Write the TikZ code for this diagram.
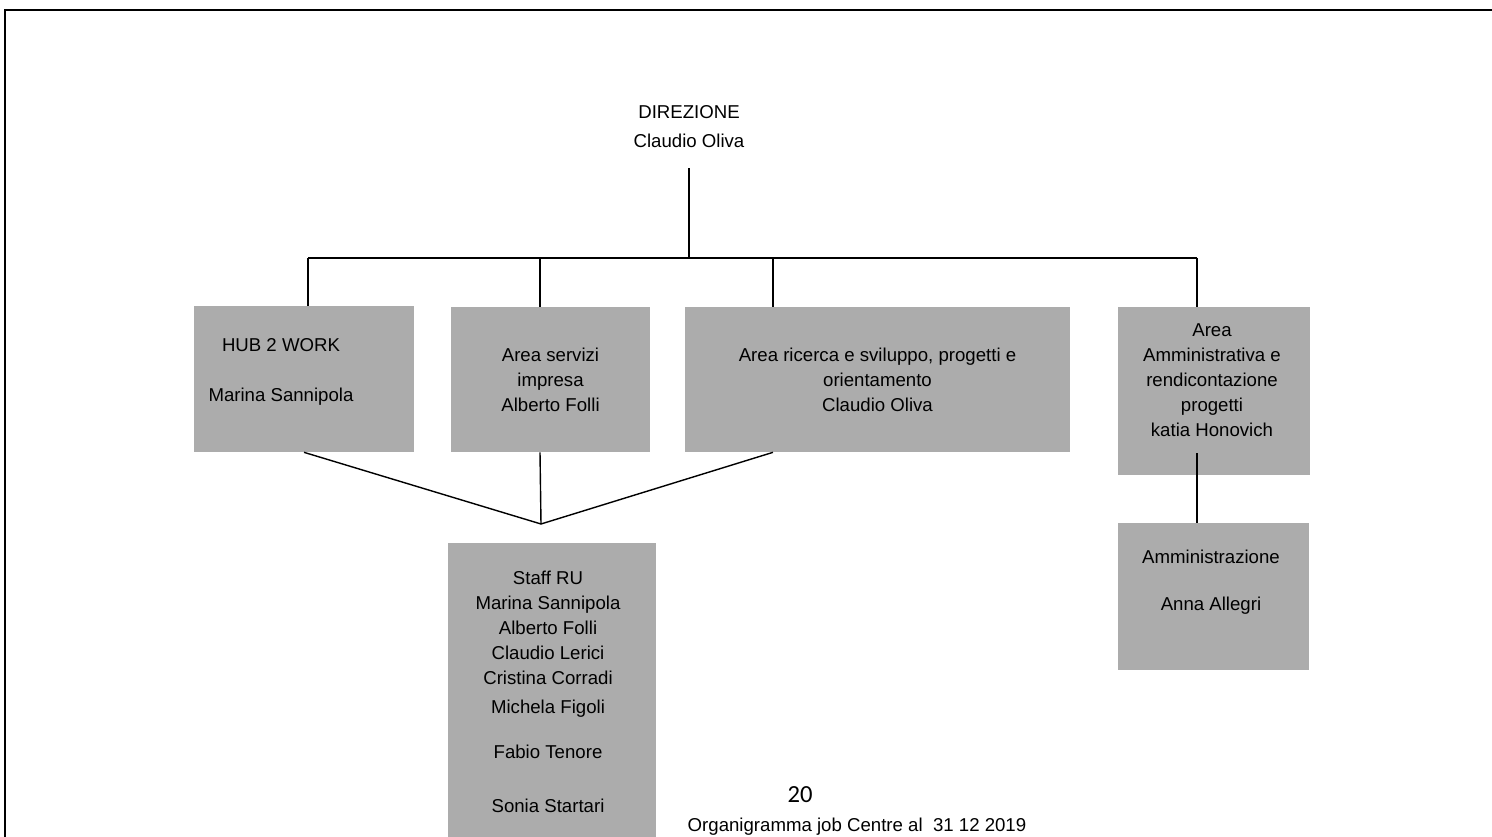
\documentclass[tikz,border=0pt]{standalone}
\usepackage{fontspec}
\setmainfont{Liberation Sans}
\newfontfamily\pagefont{Carlito}
\definecolor{boxGray}{RGB}{172,172,172}

\begin{document}
\begin{tikzpicture}[
        x=0.02cm, y=-0.02cm,
        area/.style={
            rectangle,
            fill=boxGray,
            inner sep=0pt,
            align=center,
            font=\fontsize{10.6}{14.2}\selectfont
        },
        testo/.style={
            align=center,
            inner sep=0pt,
            font=\fontsize{10.6}{14.2}\selectfont
        },
        linea/.style={
            line width=0.8pt
        },
        barra/.style={
            line width=1.4pt
        }
    ]

    \useasboundingbox (0,0) rectangle (1492,837);
    \clip (0,0) rectangle (1492,837);
    \fill[white] (0,0) rectangle (1492,837);

    % page frame
    \draw[line width=0.9pt] (1492,10) -- (5,10) -- (5,837);

    \node[testo, font=\fontsize{10.6}{16.5}\selectfont, inner ysep=0.4cm] (dir) at (689,127) {DIREZIONE\\Claudio Oliva};

    \node[area, minimum width=4.4cm, minimum height=2.92cm] (hub) at (304,379) {};
    \node[testo] (hubtxt) at (281,372) {HUB 2 WORK\\[0.5cm]Marina Sannipola};
    \node[area, minimum width=3.98cm, minimum height=2.9cm] (servizi) at (550.5,379.5) {Area servizi\\impresa\\Alberto Folli};
    \node[area, minimum width=7.7cm, minimum height=2.9cm] (ricerca) at (877.5,379.5) {Area ricerca e sviluppo, progetti e\\orientamento\\Claudio Oliva};
    \node[area, minimum width=3.84cm, minimum height=3.36cm] (amm) at (1214,391) {};
    \node[testo] (ammtxt) at (1212,380) {Area\\Amministrativa e\\rendicontazione\\progetti\\katia Honovich};
    \node[area, minimum width=3.82cm, minimum height=2.94cm] (ammin) at (1213.5,596.5) {};
    \node[testo] (ammintxt) at (1211,582) {Amministrazione\\[0.44cm]Anna Allegri};
    \node[area, minimum width=4.16cm, minimum height=7.2cm, anchor=north] (staff) at (552,543) {};
    \node[testo] (stafftxt) at (548,692) {Staff RU\\Marina Sannipola\\Alberto Folli\\Claudio Lerici\\Cristina Corradi\\[0.08cm]Michela Figoli\\[0.4cm]Fabio Tenore\\[0.58cm]Sonia Startari};

    \coordinate (d1) at (308,258);
    \coordinate (d2) at (540,258);
    \coordinate (d3) at (773,258);
    \coordinate (d4) at (1197,258);
    \coordinate (join) at (541,524);

    \draw[barra] (d1) -- (d4);
    \draw[linea] (dir.south) -- (dir.south |- d1);
    \draw[linea] (d1) -- (d1 |- hub.north);
    \draw[linea] (d2) -- (d2 |- servizi.north);
    \draw[linea] (d3) -- (d3 |- ricerca.north);
    \draw[linea] (d4) -- (d4 |- amm.north);

    \draw[linea] (hub.south) -- (join);
    \draw[linea] (d2 |- servizi.south) -- (join);
    \draw[linea] (d3 |- ricerca.south) -- (join);
    \draw[linea] (d4 |- ammin.north) -- ++(0,-70);

    \node[inner sep=0pt, font=\pagefont\fontsize{14}{16}\selectfont] (pagina) at (800,795) {20};
    \node[testo] (nota) at (857,827) {Organigramma job Centre al \ 31 12 2019};

\end{tikzpicture}
\end{document}
